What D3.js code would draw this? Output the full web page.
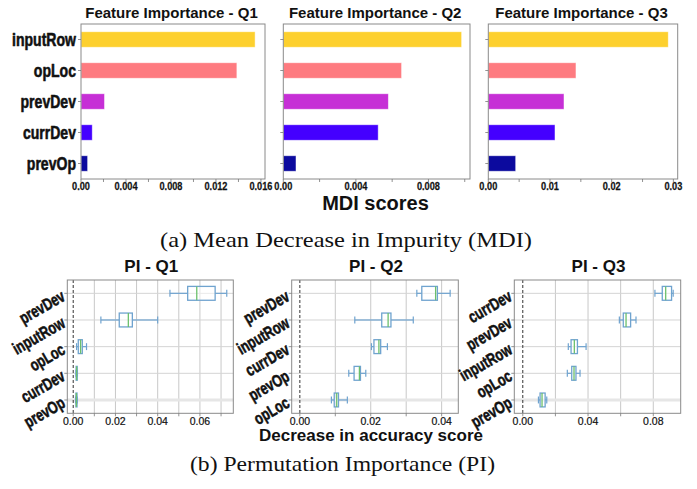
<!DOCTYPE html>
<html lang="en">
<head>
  <meta charset="utf-8">
  <title>Feature importance</title>
  <script src="https://d3js.org/d3.v7.min.js"></script>
  <style>
    body { margin: 0; background: #fff; }
    svg { display: block; }
  </style>
</head>
<body>
<div id="chart"></div>
<script>
  // ---- data ----
  var mdiFeatures = ["inputRow", "opLoc", "prevDev", "currDev", "prevOp"];
  var mdiQ1 = [0.01548, 0.01386, 0.00209, 0.00100, 0.00059];
  var mdiQ2 = [0.00983, 0.00652, 0.00579, 0.00523, 0.00070];
  var mdiQ3 = [0.02917, 0.01421, 0.01227, 0.01081, 0.00444];
  var mdiColors = ["#fdd02e", "#fe7b80", "#c62fd6", "#4400ff", "#0c0a9e"];
  var mdiTicksQ1 = [0, 0.004, 0.008, 0.012, 0.016];
  var mdiTicksQ2 = [0, 0.004, 0.008];
  var mdiTicksQ3 = [0, 0.01, 0.02, 0.03];

  // permutation importance: [whiskerLow, q1, median, q3, whiskerHigh]
  var piQ1Features = ["prevDev", "inputRow", "opLoc", "currDev", "prevOp"];
  var piQ1 = [
    [0.0458, 0.0542, 0.0585, 0.0672, 0.0727],
    [0.0131, 0.0218, 0.0261, 0.0280, 0.0400],
    [0.0016, 0.0024, 0.0035, 0.0043, 0.0063],
    [0.0013, 0.0014, 0.0016, 0.0019, 0.0020],
    [0.0011, 0.0013, 0.0015, 0.0018, 0.0019]
  ];
  var piQ2Features = ["prevDev", "inputRow", "currDev", "prevOp", "opLoc"];
  var piQ2 = [
    [0.0330, 0.0344, 0.0383, 0.0388, 0.0424],
    [0.0155, 0.0231, 0.0249, 0.0257, 0.0320],
    [0.0202, 0.0209, 0.0223, 0.0228, 0.0247],
    [0.0138, 0.0153, 0.0168, 0.0171, 0.0186],
    [0.0089, 0.0097, 0.0104, 0.0109, 0.0134]
  ];
  var piQ3Features = ["currDev", "prevDev", "inputRow", "opLoc", "prevOp"];
  var piQ3 = [
    [0.0810, 0.0855, 0.0876, 0.0912, 0.0922],
    [0.0592, 0.0616, 0.0633, 0.0661, 0.0694],
    [0.0279, 0.0296, 0.0316, 0.0335, 0.0388],
    [0.0273, 0.0300, 0.0314, 0.0326, 0.0351],
    [0.0096, 0.0106, 0.0118, 0.0137, 0.0147]
  ];
  var piTicksQ1 = [0, 0.02, 0.04, 0.06];
  var piTicksQ2 = [0, 0.02, 0.04];
  var piTicksQ3 = [0, 0.04, 0.08];
  var piGridQ1 = [0.01, 0.02, 0.03, 0.04, 0.05, 0.06, 0.07];
  var piGridQ2 = [0.01, 0.02, 0.03, 0.04];
  var piGridQ3 = [0.02, 0.04, 0.06, 0.08];

  var SANS = "'Liberation Sans', Arial, Helvetica, sans-serif";
  var SERIF = "'Liberation Serif', 'Times New Roman', serif";
  var NARROW = 0.74; // horizontal squeeze to mimic a condensed heavy face

  var w = 697, h = 489;
  var svg = d3.select("#chart").append("svg").attr("width", w).attr("height", h);

  function heavy(sel, sw) {
    return sel.attr("font-family", SANS).attr("font-weight", "bold")
      .attr("fill", "#111").attr("stroke", "#111").attr("stroke-width", sw)
      .attr("stroke-linejoin", "round");
  }

  // ---- MDI bar panels ----
  function barPanel(x0, x1, xmax, values, ticks, minorStep, fmt, title) {
    var y0 = 24, y1 = 179;
    var g = svg.append("g");
    var x = d3.scaleLinear().domain([0, xmax]).range([x0, x1]);
    var y = d3.scaleBand().domain(mdiFeatures).range([y0, y1]).paddingInner(0.5).paddingOuter(0.25);

    g.selectAll("rect.bar").data(values).enter().append("rect")
      .attr("class", "bar")
      .attr("x", x(0))
      .attr("y", (d, i) => y(mdiFeatures[i]))
      .attr("width", d => x(d) - x(0))
      .attr("height", y.bandwidth())
      .attr("fill", (d, i) => mdiColors[i])
      .attr("stroke", "#fff").attr("stroke-opacity", 0.6).attr("stroke-width", 0.8);

    g.append("rect").attr("x", x0).attr("y", y0).attr("width", x1 - x0).attr("height", y1 - y0)
      .attr("fill", "none").attr("stroke", "#8a8a8a").attr("stroke-width", 1);

    // x ticks every minor step, labels on majors
    var all = d3.range(0, xmax + 1e-9, minorStep);
    g.selectAll("line.xt").data(all).enter().append("line")
      .attr("x1", d => x(d)).attr("x2", d => x(d)).attr("y1", y1).attr("y2", y1 + 3)
      .attr("stroke", "#777").attr("stroke-width", 0.8);
    heavy(g.selectAll("text.xl").data(ticks).enter().append("text"), 0.25)
      .attr("transform", d => "translate(" + x(d) + ",189.5) scale(" + 0.8 + ",1)")
      .attr("text-anchor", "middle").attr("font-size", 11.5)
      .text(fmt);

    // y ticks
    g.selectAll("line.yt").data(mdiFeatures).enter().append("line")
      .attr("x1", x0 - 3).attr("x2", x0).attr("y1", d => y(d) + y.bandwidth() / 2).attr("y2", d => y(d) + y.bandwidth() / 2)
      .attr("stroke", "#777").attr("stroke-width", 0.8);

    g.append("text").attr("font-family", SANS).attr("font-weight", "bold")
      .attr("x", (x0 + x1) / 2 - 1.5).attr("y", 18).attr("text-anchor", "middle").attr("font-size", 15)
      .attr("fill", "#111").text(title);
    return { g: g, y: y, x0: x0 };
  }

  var p1 = barPanel(81, 265, 0.01636, mdiQ1, mdiTicksQ1, 0.002, d => d === 0 ? "0.00" : d3.format(".3f")(d), "Feature Importance - Q1");
  barPanel(283.3, 470, 0.01029, mdiQ2, mdiTicksQ2, 0.002, d => d === 0 ? "0.00" : d3.format(".3f")(d), "Feature Importance - Q2");
  barPanel(488.3, 677.7, 0.0307, mdiQ3, mdiTicksQ3, 0.005, d => d3.format(".2f")(d), "Feature Importance - Q3");

  heavy(p1.g.selectAll("text.yl").data(mdiFeatures).enter().append("text"), 0.6)
    .attr("transform", d => "translate(" + (p1.x0 - 5) + "," + (p1.y(d) + p1.y.bandwidth() / 2) + ") scale(" + NARROW + ",1)")
    .attr("dy", "0.36em").attr("text-anchor", "end").attr("font-size", 19)
    .text(d => d);

  svg.append("text").attr("font-family", SANS).attr("font-weight", "bold")
    .attr("x", 375.5).attr("y", 210).attr("text-anchor", "middle").attr("font-size", 20)
    .attr("fill", "#111").text("MDI scores");

  svg.append("text").attr("font-family", SERIF)
    .attr("x", 160).attr("y", 247).attr("font-size", 21)
    .attr("textLength", 372).attr("lengthAdjust", "spacingAndGlyphs")
    .attr("fill", "#111").text("(a) Mean Decrease in Impurity (MDI)");

  // ---- PI box panels ----
  function boxPanel(x0, x1, dom, feats, stats, ticks, grid, title) {
    var y0 = 280, y1 = 413.3;
    var g = svg.append("g");
    var x = d3.scaleLinear().domain(dom).range([x0, x1]);
    var y = d3.scaleBand().domain(feats).range([y0, y1]).paddingInner(0.48).paddingOuter(0.24);
    var cy = d => y(d) + y.bandwidth() / 2;

    // grid
    g.selectAll("line.gx").data(grid).enter().append("line")
      .attr("x1", d => x(d)).attr("x2", d => x(d)).attr("y1", y0).attr("y2", y1)
      .attr("stroke", "#c8c8c8").attr("stroke-width", 1);
    g.selectAll("line.gy").data(feats).enter().append("line")
      .attr("x1", x0).attr("x2", x1).attr("y1", cy).attr("y2", cy)
      .attr("stroke", (d, i) => i === feats.length - 1 ? "#e6e6e6" : "#d4d4d4")
      .attr("stroke-width", (d, i) => i === feats.length - 1 ? 3 : 1);

    // zero line
    g.append("line").attr("x1", x(0)).attr("x2", x(0)).attr("y1", y0).attr("y2", y1)
      .attr("stroke", "#333").attr("stroke-width", 1).attr("stroke-dasharray", "3,2");

    var blue = "#6fa3cf", green = "#6cc06c";
    var bh = y.bandwidth();
    var box = g.selectAll("g.box").data(stats).enter().append("g");
    box.append("line")
      .attr("x1", d => x(d[0])).attr("x2", d => x(d[1]))
      .attr("y1", (d, i) => cy(feats[i])).attr("y2", (d, i) => cy(feats[i]))
      .attr("stroke", blue).attr("stroke-width", 1.2);
    box.append("line")
      .attr("x1", d => x(d[3])).attr("x2", d => x(d[4]))
      .attr("y1", (d, i) => cy(feats[i])).attr("y2", (d, i) => cy(feats[i]))
      .attr("stroke", blue).attr("stroke-width", 1.2);
    [0, 4].forEach(function(k) {
      box.append("line")
        .attr("x1", d => x(d[k])).attr("x2", d => x(d[k]))
        .attr("y1", (d, i) => cy(feats[i]) - bh * 0.25).attr("y2", (d, i) => cy(feats[i]) + bh * 0.25)
        .attr("stroke", blue).attr("stroke-width", 1.2);
    });
    box.append("rect")
      .attr("x", d => x(d[1])).attr("width", d => Math.max(x(d[3]) - x(d[1]), 1))
      .attr("y", (d, i) => y(feats[i])).attr("height", bh)
      .attr("fill", "#ffffff").attr("fill-opacity", 0.5)
      .attr("stroke", blue).attr("stroke-width", 1.3);
    box.append("line")
      .attr("x1", d => x(d[2])).attr("x2", d => x(d[2]))
      .attr("y1", (d, i) => y(feats[i])).attr("y2", (d, i) => y(feats[i]) + bh)
      .attr("stroke", green).attr("stroke-width", 1.3);

    // frame
    g.append("rect").attr("x", x0).attr("y", y0).attr("width", x1 - x0).attr("height", y1 - y0)
      .attr("fill", "none").attr("stroke", "#8a8a8a").attr("stroke-width", 1);

    // ticks
    g.selectAll("line.xt").data(grid.concat([0])).enter().append("line")
      .attr("x1", d => x(d)).attr("x2", d => x(d)).attr("y1", y1).attr("y2", y1 + 3)
      .attr("stroke", "#777").attr("stroke-width", 0.8);
    g.selectAll("text.xl").data(ticks).enter().append("text")
      .attr("font-family", SANS)
      .attr("x", d => x(d)).attr("y", 425)
      .attr("text-anchor", "middle").attr("font-size", 10.5).attr("fill", "#111")
      .attr("stroke", "#111").attr("stroke-width", 0.2)
      .text(d => d3.format(".2f")(d));
    g.selectAll("line.yt").data(feats).enter().append("line")
      .attr("x1", x0 - 3).attr("x2", x0).attr("y1", cy).attr("y2", cy)
      .attr("stroke", "#777").attr("stroke-width", 0.8);
    heavy(g.selectAll("text.yl").data(feats).enter().append("text"), 0.55)
      .attr("transform", d => "translate(" + (x0 - 4) + "," + (cy(d) + 1) + ") rotate(-30) scale(" + NARROW + ",1)")
      .attr("text-anchor", "end").attr("dy", "0.36em").attr("font-size", 17)
      .text(d => d);

    g.append("text").attr("font-family", SANS).attr("font-weight", "bold")
      .attr("x", (x0 + x1) / 2 + 1).attr("y", 272).attr("text-anchor", "middle").attr("font-size", 17)
      .attr("fill", "#111").text(title);
  }

  boxPanel(67.3, 233.3, [-0.0028, 0.0758], piQ1Features, piQ1, piTicksQ1, piGridQ1, "PI - Q1");
  boxPanel(291.7, 458.3, [-0.0023, 0.0447], piQ2Features, piQ2, piTicksQ2, piGridQ2, "PI - Q2");
  boxPanel(514.3, 680.7, [-0.0052, 0.0968], piQ3Features, piQ3, piTicksQ3, piGridQ3, "PI - Q3");

  svg.append("text").attr("font-family", SANS).attr("font-weight", "bold")
    .attr("x", 371).attr("y", 441).attr("text-anchor", "middle").attr("font-size", 17)
    .attr("fill", "#111").text("Decrease in accuracy score");

  svg.append("text").attr("font-family", SERIF)
    .attr("x", 190).attr("y", 471).attr("font-size", 21)
    .attr("textLength", 305).attr("lengthAdjust", "spacingAndGlyphs")
    .attr("fill", "#111").text("(b) Permutation Importance (PI)");
</script>
</body>
</html>
